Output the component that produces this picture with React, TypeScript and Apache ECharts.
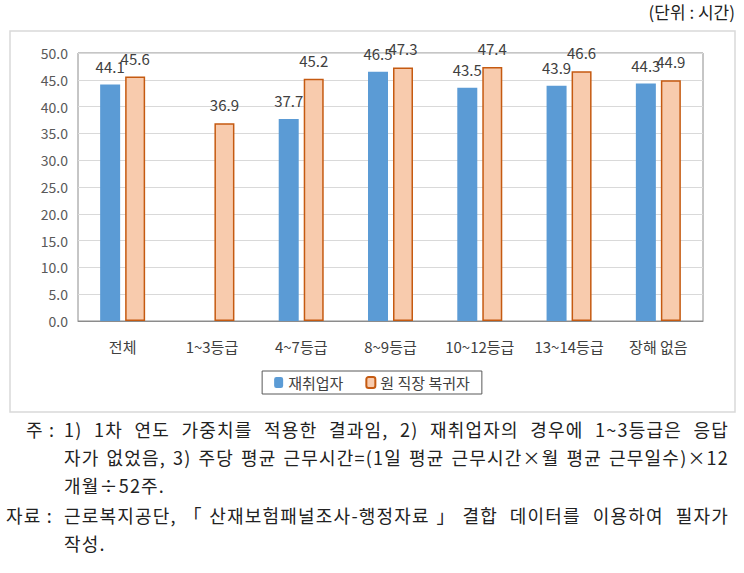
import React, { useEffect, useRef } from "react";
import * as echarts from "echarts";

const categories = ["전체", "1~3등급", "4~7등급", "8~9등급", "10~12등급", "13~14등급", "장해 없음"];
const reemployed: (number | null)[] = [44.1, null, 37.7, 46.5, 43.5, 43.9, 44.3];
const returned: number[] = [45.6, 36.9, 45.2, 47.3, 47.4, 46.6, 44.9];
const seriesNames = ["재취업자", "원 직장 복귀자"];
const unitText = "(단위 : 시간)";
const noteLines = [
  "1) 1차 연도 가중치를 적용한 결과임, 2) 재취업자의 경우에 1~3등급은 응답",
  "자가 없었음, 3) 주당 평균 근무시간=(1일 평균 근무시간×월 평균 근무일수)×12",
  "개월÷52주.",
];
const sourceLines = [
  "근로복지공단,「산재보험패널조사-행정자료」결합 데이터를 이용하여 필자가",
  "작성.",
];

const KFONT = "'Noto Sans CJK KR', 'Noto Sans', sans-serif";
const SFONT = "'Noto Sans CJK KR', 'DejaVu Serif', serif";

export default function App() {
  const ref = useRef<HTMLDivElement>(null);
  useEffect(() => {
    if (!ref.current) return;
    const chart = echarts.init(ref.current, undefined, { renderer: "svg" });
    const labelCfg = {
      show: true,
      position: "top" as const,
      distance: 11,
      color: "#404040",
      fontSize: 15,
      fontFamily: KFONT,
      formatter: (p: any) => (p.value == null ? "" : Number(p.value).toFixed(1)),
    };
    chart.setOption({
      animation: false,
      backgroundColor: "#ffffff",
      textStyle: { fontFamily: KFONT },
      graphic: [
        {
          type: "rect",
          shape: { x: 10, y: 31, width: 725, height: 381 },
          style: { fill: "none", stroke: "#D9D9D9", lineWidth: 1.5 },
          silent: true,
        },
        {
          type: "text",
          right: 9,
          top: 3,
          style: { text: unitText, fontSize: 17, fontFamily: SFONT, fill: "#222222" },
        },
      ],
      grid: {
        left: 78,
        right: 41,
        top: 53,
        bottom: 252,
        show: true,
        borderColor: "#8c8c8c",
        borderWidth: 1,
      },
      legend: {
        data: seriesNames,
        left: "center",
        top: 371,
        itemWidth: 9,
        itemHeight: 11,
        itemGap: 22,
        borderColor: "#595959",
        borderWidth: 1,
        padding: [4, 12, 4, 12],
        textStyle: { fontSize: 15, color: "#404040", fontFamily: KFONT },
        borderRadius: 0,
      },
      xAxis: {
        type: "category",
        data: categories,
        axisLine: { show: true, lineStyle: { color: "#8c8c8c" } },
        axisTick: { show: false },
        axisLabel: { margin: 18, fontSize: 15, color: "#404040", fontFamily: KFONT, interval: 0 },
      },
      yAxis: {
        type: "value",
        min: 0,
        max: 50,
        interval: 5,
        axisLine: { show: false },
        axisTick: { show: false },
        splitLine: { lineStyle: { color: "#D9D9D9" } },
        axisLabel: {
          margin: 10,
          fontSize: 14,
          color: "#595959",
          fontFamily: KFONT,
          formatter: (v: number) => v.toFixed(1),
        },
      },
      series: [
        {
          name: seriesNames[0],
          type: "bar",
          data: reemployed,
          barWidth: 20,
          barGap: "25%",
          itemStyle: { color: "#5B9BD5" },
          label: labelCfg,
        },
        {
          name: seriesNames[1],
          type: "bar",
          data: returned,
          barWidth: 20,
          itemStyle: { color: "#F8CBAD", borderColor: "#C55A11", borderWidth: 1.5 },
          label: labelCfg,
        },
      ],
    });
    return () => chart.dispose();
  }, []);

  const lineStyle = (justify: boolean): React.CSSProperties => ({
    height: 28,
    lineHeight: "28px",
    textAlign: justify ? "justify" : "left",
    textAlignLast: justify ? "justify" : "left",
    whiteSpace: "nowrap",
  });

  return (
    <div style={{ position: "fixed", left: 0, top: 0, width: 744, height: 573, background: "#fff" }}>
      <div ref={ref} style={{ position: "absolute", left: 0, top: 0, width: 744, height: 573 }} />
      <div
        style={{
          position: "absolute",
          left: 0,
          top: 415,
          width: 744,
          fontFamily: SFONT,
          fontSize: 18,
          letterSpacing: "1.2px",
          color: "#222",
        }}
      >
        <div style={{ position: "relative", height: 84 }}>
          <div style={{ position: "absolute", left: 26, top: 0, width: 38, lineHeight: "28px" }}>주 :</div>
          <div style={{ position: "absolute", left: 64, top: 0, width: 665 }}>
            {noteLines.map((t, i) => (
              <div key={i} style={lineStyle(i < noteLines.length - 1)}>{t}</div>
            ))}
          </div>
        </div>
        <div style={{ position: "relative", height: 56, top: 2 }}>
          <div style={{ position: "absolute", left: 6, top: 0, width: 58, lineHeight: "28px" }}>자료 :</div>
          <div style={{ position: "absolute", left: 64, top: 0, width: 665 }}>
            {sourceLines.map((t, i) => (
              <div key={i} style={lineStyle(i < sourceLines.length - 1)}>{t}</div>
            ))}
          </div>
        </div>
      </div>
    </div>
  );
}
